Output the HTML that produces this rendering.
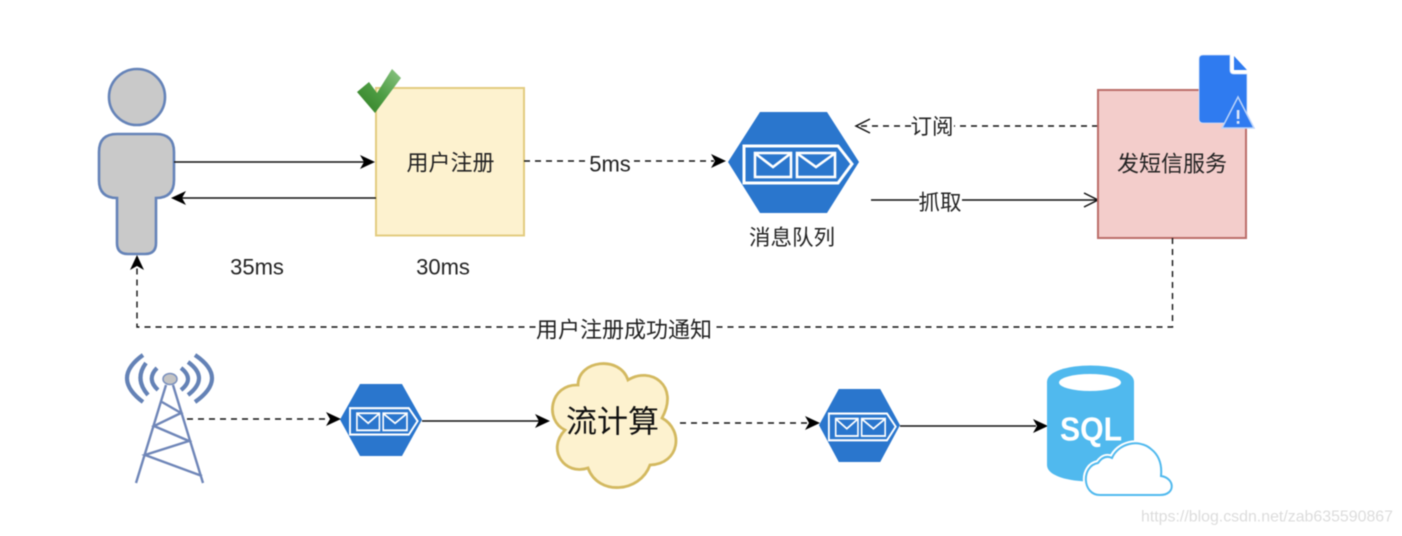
<!DOCTYPE html>
<html>
<head>
<meta charset="utf-8">
<style>
html,body{margin:0;padding:0;background:#fff;width:1402px;height:536px;overflow:hidden}
svg{display:block;filter:blur(0.55px)}
text{font-family:"Liberation Sans","Noto Sans CJK SC",sans-serif;fill:#222;text-anchor:middle;dominant-baseline:central}
</style>
</head>
<body>
<svg width="1402" height="536" viewBox="0 0 1402 536" xmlns="http://www.w3.org/2000/svg">
<defs>
<linearGradient id="chk" x1="0" y1="1" x2="1" y2="0">
<stop offset="0" stop-color="#2f7d22"/><stop offset="0.5" stop-color="#4f9e45"/><stop offset="1" stop-color="#8cc585"/>
</linearGradient>
<symbol id="hex" viewBox="0 0 131 101" preserveAspectRatio="none">
<polygon points="0,50 32,0 99,0 131,50 99,101 32,101" fill="#2a76cd"/>
<path d="M16 34H110L124 52L110 71H16Z" fill="none" stroke="#fff" stroke-width="3"/>
<rect x="27" y="41" width="36" height="24" fill="none" stroke="#fff" stroke-width="2.6"/>
<rect x="69" y="41" width="38" height="24" fill="none" stroke="#fff" stroke-width="2.6"/>
<path d="M28 42L45 55L62 42M70 42L88 55L106 42" fill="none" stroke="#fff" stroke-width="2.6"/>
</symbol>
</defs>

<!-- person -->
<circle cx="137" cy="97" r="28" fill="#c9c9c9" stroke="#6583b8" stroke-width="2.6"/>
<path d="M117 134H156Q174 134 174 152V180Q174 198 156 198V243Q156 254 145 254H128Q117 254 117 243V198Q99 198 99 180V152Q99 134 117 134Z" fill="#c9c9c9" stroke="#6583b8" stroke-width="2.6"/>

<!-- register box -->
<rect x="376" y="88" width="148" height="147.500" fill="#fdf2cf" stroke="#e3cc80" stroke-width="2"/>
<polygon points="357,92 369,82 377,93 392,69 401,78 375,113" fill="url(#chk)"/>
<text x="450.500" y="163" font-size="22">用户注册</text>

<!-- person arrows -->
<line x1="174" y1="162" x2="366" y2="162" stroke="#111" stroke-width="1.500"/>
<polygon points="375,162 360,155 364,162 360,169" fill="#000"/>
<line x1="376" y1="198" x2="180" y2="198" stroke="#111" stroke-width="1.500"/>
<polygon points="171,198 186,191 182,198 186,205" fill="#000"/>
<text x="257" y="267" font-size="22">35ms</text>
<text x="443" y="267" font-size="22">30ms</text>

<!-- 5ms -->
<line x1="524" y1="161" x2="714" y2="161" stroke="#111" stroke-width="1.500" stroke-dasharray="6 5"/>
<polygon points="726,161 711,154 715,161 711,168" fill="#000"/>
<rect x="590" y="152" width="41" height="24" fill="#fff"/>
<text x="610" y="164" font-size="22">5ms</text>

<!-- big hex -->
<use href="#hex" x="728" y="112" width="131" height="101"/>
<text x="792" y="238" font-size="21.500">消息队列</text>

<!-- subscribe -->
<line x1="1098" y1="126" x2="857" y2="126" stroke="#111" stroke-width="1.500" stroke-dasharray="6 5"/>
<path d="M870 119L856 126L870 133" fill="none" stroke="#111" stroke-width="1.500"/>
<rect x="911" y="114" width="43" height="26" fill="#fff"/>
<text x="932" y="127" font-size="21.500">订阅</text>

<!-- fetch -->
<line x1="871" y1="200" x2="1097" y2="200" stroke="#111" stroke-width="1.500"/>
<path d="M1084 193L1098 200L1084 207" fill="none" stroke="#111" stroke-width="1.500"/>
<rect x="919" y="188" width="43" height="26" fill="#fff"/>
<text x="940" y="203" font-size="21.500">抓取</text>

<!-- sms box -->
<rect x="1098" y="90" width="148" height="148" fill="#f3cdcb" stroke="#bb6d69" stroke-width="2"/>
<text x="1172" y="164" font-size="22">发短信服务</text>

<!-- doc icon -->
<path d="M1203 55H1230V70Q1230 74 1234 74H1247V123H1203Q1199 123 1199 119V59Q1199 55 1203 55Z" fill="#2f7bf0" stroke="#cfe0fb" stroke-width="0.800"/>
<path d="M1234 56L1247 70H1234Z" fill="#2f7bf0"/>
<polygon points="1238,97 1254,128 1222,128" fill="#2f7bf0" stroke="#bcd4fa" stroke-width="1.500"/>
<rect x="1236.800" y="110" width="2.600" height="9" fill="#dde8fb"/>
<rect x="1236.800" y="121" width="2.600" height="2.800" fill="#dde8fb"/>

<!-- notify -->
<path d="M1172.500 238V327H137V266" fill="none" stroke="#111" stroke-width="1.400" stroke-dasharray="6 5"/>
<polygon points="137,255 130,270 137,266 144,270" fill="#000"/>
<rect x="536" y="317" width="177" height="26" fill="#fff"/>
<text x="624" y="330" font-size="22">用户注册成功通知</text>

<!-- tower -->
<g fill="none" stroke="#6f86b8" stroke-width="2.400">
<path d="M166 385L136 483M173 385L203 483M162 402L181 413L154 426L189 441L145 455L202 476"/>
</g>
<ellipse cx="170" cy="379" rx="7" ry="5.500" fill="#c4c4c4" stroke="#7a90bd" stroke-width="1.500"/>
<g fill="none" stroke="#6482b6" stroke-width="4.200">
<path d="M157 368Q146 379 158 390M181 368Q195 379 181 390"/>
<path d="M146 363Q134 379 148 395M188 362Q210 378 188 395"/>
<path d="M143 355Q111 378 143 402M195 355Q229 378 195 402"/>
</g>

<!-- bottom flow 1 -->
<line x1="187" y1="419" x2="330" y2="419" stroke="#111" stroke-width="1.500" stroke-dasharray="6 5"/>
<polygon points="341,419 326,412 330,419 326,426" fill="#000"/>
<use href="#hex" x="340" y="384" width="82" height="72"/>
<line x1="422" y1="421" x2="540" y2="421" stroke="#111" stroke-width="1.500"/>
<polygon points="550,421 535,414 539,421 535,428" fill="#000"/>

<!-- cloud -->
<path d="M578 385C578 360 620 355 628 380C650 366 680 385 662 418C684 430 680 464 650 465C640 493 598 496 588 468C565 476 546 450 565 430C544 420 550 384 578 385Z" fill="#fdf2cf" stroke="#d3b960" stroke-width="2.800"/>
<text x="612.500" y="422" font-size="31" style="fill:#111">流计算</text>

<!-- bottom flow 2 -->
<line x1="680" y1="423" x2="808" y2="423" stroke="#111" stroke-width="1.500" stroke-dasharray="6 5"/>
<polygon points="820,423 805,416 809,423 805,430" fill="#000"/>
<use href="#hex" x="819" y="389" width="81" height="73"/>
<line x1="900" y1="426" x2="1036" y2="426" stroke="#111" stroke-width="1.500"/>
<polygon points="1048,426 1033,419 1037,426 1033,433" fill="#000"/>

<!-- SQL -->
<path d="M1047 382C1047 360 1134 360 1134 382V465C1134 487 1047 487 1047 465Z" fill="#50b9ee"/>
<ellipse cx="1090" cy="382.500" rx="31" ry="8.500" fill="#fff"/>
<text x="1091" y="429" font-size="33" font-weight="bold" textLength="62" lengthAdjust="spacingAndGlyphs" style="fill:#fff">SQL</text>
<path d="M1100 495C1082 495 1081 466 1098 463C1103 456 1108 456 1112 458C1118 444 1138 438 1151 449C1160 456 1162 466 1161 476C1175 478 1176 495 1160 495Z" fill="#fff" stroke="#fff" stroke-width="6"/>
<path d="M1100 495C1082 495 1081 466 1098 463C1103 456 1108 456 1112 458C1118 444 1138 438 1151 449C1160 456 1162 466 1161 476C1175 478 1176 495 1160 495Z" fill="#fff" stroke="#50b9ee" stroke-width="2"/>

<!-- watermark -->
<text x="1267" y="517" font-size="16" textLength="252" lengthAdjust="spacingAndGlyphs" style="fill:#dcdcdc">https://blog.csdn.net/zab635590867</text>
</svg>
</body>
</html>
